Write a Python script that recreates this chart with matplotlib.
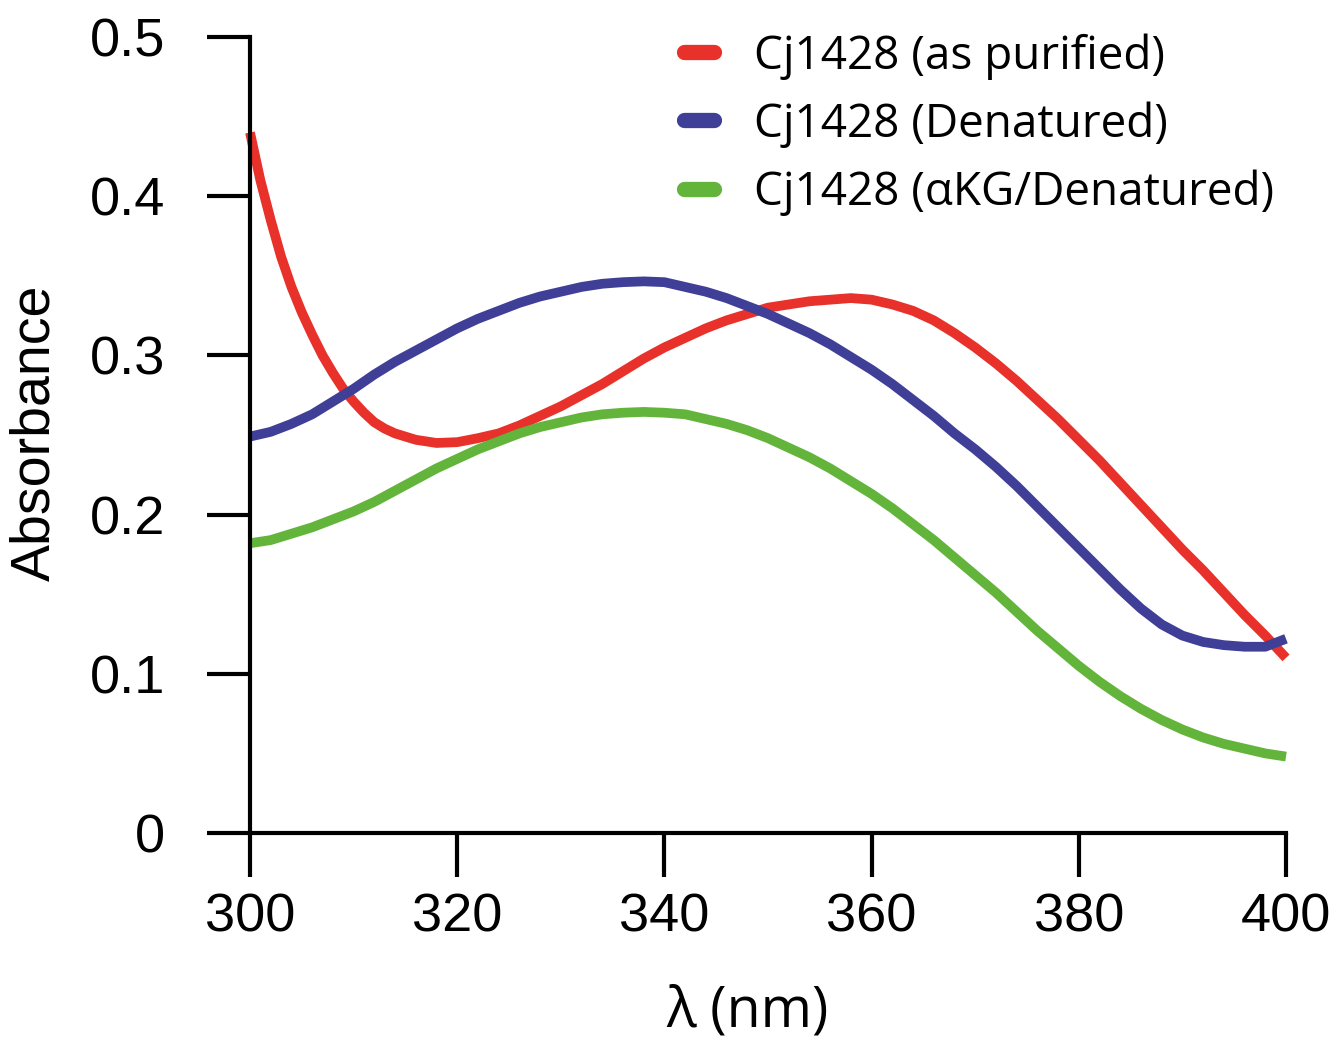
import matplotlib.pyplot as plt

# Wavelengths (nm) and absorbance
wl_purified = [300, 301, 302, 303, 304, 305, 306, 307, 308, 309, 310, 311, 312, 313, 314,
               316, 318, 320, 322, 324, 326, 328, 330, 332, 334, 336, 338, 340, 342, 344,
               346, 348, 350, 352, 354, 356, 358, 360, 362, 364, 366, 368, 370, 372, 374,
               376, 378, 380, 382, 384, 386, 388, 390, 392, 394, 396, 398, 400]
abs_purified = [0.440, 0.410, 0.385, 0.362, 0.343, 0.327, 0.313, 0.300, 0.289, 0.279,
                0.271, 0.264, 0.258, 0.254, 0.251, 0.247, 0.245, 0.2455, 0.248, 0.251,
                0.256, 0.262, 0.268, 0.275, 0.282, 0.290, 0.298, 0.305, 0.311, 0.317,
                0.322, 0.326, 0.330, 0.332, 0.334, 0.335, 0.336, 0.335, 0.332, 0.328,
                0.322, 0.314, 0.305, 0.295, 0.284, 0.272, 0.260, 0.247, 0.234, 0.220,
                0.206, 0.192, 0.178, 0.165, 0.151, 0.137, 0.124, 0.110]

wl = [300, 302, 304, 306, 308, 310, 312, 314, 316, 318, 320, 322, 324, 326, 328, 330,
      332, 334, 336, 338, 340, 342, 344, 346, 348, 350, 352, 354, 356, 358, 360, 362,
      364, 366, 368, 370, 372, 374, 376, 378, 380, 382, 384, 386, 388, 390, 392, 394,
      396, 398, 400]
abs_denat = [0.249, 0.252, 0.257, 0.263, 0.271, 0.279, 0.288, 0.296, 0.303, 0.310,
             0.317, 0.323, 0.328, 0.333, 0.337, 0.340, 0.343, 0.345, 0.346, 0.3465,
             0.346, 0.343, 0.340, 0.336, 0.331, 0.326, 0.320, 0.314, 0.307, 0.299,
             0.291, 0.282, 0.272, 0.262, 0.251, 0.241, 0.230, 0.218, 0.205, 0.192,
             0.179, 0.166, 0.153, 0.141, 0.131, 0.124, 0.120, 0.118, 0.117, 0.117,
             0.122]
abs_akg = [0.182, 0.184, 0.188, 0.192, 0.197, 0.202, 0.208, 0.215, 0.222, 0.229,
           0.235, 0.241, 0.246, 0.251, 0.255, 0.258, 0.261, 0.263, 0.264, 0.2645,
           0.264, 0.263, 0.260, 0.257, 0.253, 0.248, 0.242, 0.236, 0.229, 0.221,
           0.213, 0.204, 0.194, 0.184, 0.173, 0.162, 0.151, 0.139, 0.127, 0.116,
           0.105, 0.095, 0.086, 0.078, 0.071, 0.065, 0.060, 0.056, 0.053, 0.050,
           0.048]

labels = ["Cj1428 (as purified)", "Cj1428 (Denatured)", "Cj1428 (\u03b1KG/Denatured)"]
colors = ["#e8312a", "#403f97", "#63b43a"]

x_ticks = [300, 320, 340, 360, 380, 400]
y_ticks = [0, 0.1, 0.2, 0.3, 0.4, 0.5]
y_ticklabels = ["0", "0.1", "0.2", "0.3", "0.4", "0.5"]

fig = plt.figure(figsize=(13.35, 10.43), dpi=100)
ax = fig.add_axes([250 / 1335, 210 / 1043, 1036 / 1335, 796 / 1043])

series = [(wl_purified, abs_purified), (wl, abs_denat), (wl, abs_akg)]
for (x, y), lab, c in zip(series, labels, colors):
    ax.plot(x, y, color=c, lw=7, label=lab, solid_capstyle="butt",
            solid_joinstyle="round", clip_on=False)

ax.set_xlim(300, 400)
ax.set_ylim(0, 0.5)
ax.set_xticks(x_ticks)
ax.set_yticks(y_ticks)
ax.set_yticklabels(y_ticklabels)

for side in ["top", "right"]:
    ax.spines[side].set_visible(False)
for side in ["left", "bottom"]:
    ax.spines[side].set_linewidth(3)

ax.tick_params(axis="y", direction="out", length=31, width=3, pad=30, labelsize=39)
ax.tick_params(axis="x", direction="out", length=32, width=3, pad=11, labelsize=39)
for t in ax.get_xticklabels() + ax.get_yticklabels():
    t.set_fontfamily("Liberation Sans")

fig.text(35 / 1335, 1 - 433 / 1043, "Absorbance", rotation=90, ha="center",
         va="center", fontsize=40, family="Liberation Sans")
fig.text(748 / 1335, 1 - 1012 / 1043, "\u03bb (nm)", ha="center", va="center",
         fontsize=40, family="Open Sans")

leg = ax.legend(loc="upper left", bbox_to_anchor=(684 / 1335, 1 - 33 / 1043),
                bbox_transform=fig.transFigure, frameon=False, borderpad=0,
                borderaxespad=0, handlelength=0.65, handletextpad=0.88,
                labelspacing=0.47, prop={"family": "Open Sans", "size": 33})
for h in leg.legend_handles:
    h.set_linewidth(11)
    h.set_solid_capstyle("round")

fig.savefig("out.png", dpi=100)
